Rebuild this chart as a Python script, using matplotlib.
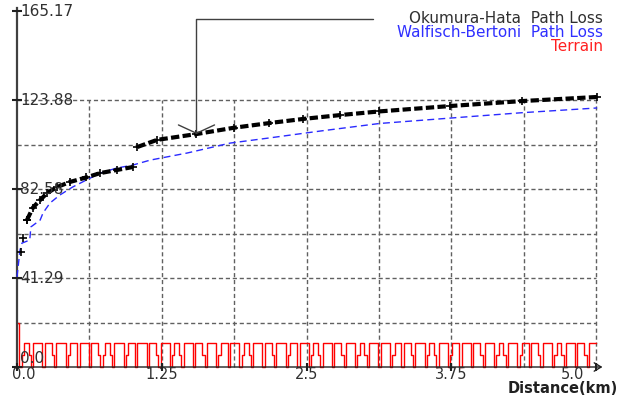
import matplotlib.pyplot as plt
import numpy as np

plt.rcParams['font.family'] = ['DejaVu Sans']

# Okumura-Hata path loss (dB) against distance (km), NaN splits the two branches
oh_km = [0.035, 0.052, 0.086, 0.138, 0.2, 0.26, 0.345, 0.46, 0.6, 0.72, 0.86, 1.0, np.nan,
         1.04, 1.21, 1.55, 1.87, 2.18, 2.47, 2.79, 3.13, 3.74, 4.36, 5.01]
oh_db = [53.4, 59.9, 68.2, 74.0, 77.5, 80.7, 83.5, 85.9, 88.0, 90.0, 91.4, 92.8, np.nan,
         102.1, 105.4, 108.1, 111.0, 113.2, 115.1, 116.9, 118.6, 121.1, 123.4, 125.3]

# Walfisch-Bertoni path loss (dB)
wb_km = [0.0, 0.026, 0.043, 0.11, 0.12, 0.2, 0.225, 0.285, 0.37, 0.48, 0.6, 0.72, 0.86,
         1.0, 1.15, 1.47, 1.84, 2.18, 2.62, 3.13, 3.74, 4.36, 5.01]
wb_db = [41.8, 54.3, 57.5, 58.9, 65.0, 68.2, 71.5, 76.1, 79.8, 83.5, 86.8, 90.0, 92.3,
         93.7, 96.0, 99.3, 103.9, 106.3, 109.5, 113.0, 115.5, 118.0, 120.2]

# terrain profile heights, one sample every 0.02 km
terrain_step = 0.02
terrain_m = [20.6,
             0, 5.6, 11.1, 11.1, 5.6,   0, 11.1, 11.1, 11.1, 11.1,  0, 11.1, 11.1, 11.1, 5.6,
             0, 11.1, 11.1, 11.1, 11.1,  0, 5.6, 11.1, 11.1, 11.1,  0, 11.1, 11.1, 11.1, 11.1,
             0, 11.1, 11.1, 11.1, 5.6,  0, 5.6, 11.1, 11.1, 5.6,  0, 11.1, 11.1, 11.1, 11.1,
             0, 5.6, 11.1, 11.1, 11.1,  0, 11.1, 11.1, 11.1, 11.1,  0, 11.1, 11.1, 11.1, 5.6,
             0, 11.1, 11.1, 11.1, 11.1,  0, 5.6, 11.1, 11.1, 5.6,  0, 11.1, 11.1, 11.1, 11.1,
             0, 11.1, 11.1, 11.1, 5.6,  0, 11.1, 11.1, 11.1, 11.1,  0, 5.6, 11.1, 11.1, 11.1,
             0, 11.1, 11.1, 11.1, 11.1,  0, 5.6, 11.1, 11.1, 5.6,  0, 11.1, 11.1, 11.1, 11.1,
             0, 11.1, 11.1, 11.1, 5.6,  0, 11.1, 11.1, 11.1, 11.1,  0, 5.6, 11.1, 11.1, 11.1,
             0, 11.1, 11.1, 11.1, 11.1,  0, 5.6, 11.1, 11.1, 5.6,  0, 11.1, 11.1, 11.1, 11.1,
             0, 11.1, 11.1, 11.1, 5.6,  0, 11.1, 11.1, 11.1, 11.1,  0, 5.6, 11.1, 11.1, 5.6,
             0, 11.1, 11.1, 11.1, 11.1,  0, 11.1, 11.1, 11.1, 11.1,  0, 5.6, 11.1, 11.1, 11.1,
             0, 11.1, 11.1, 11.1, 5.6,  0, 11.1, 11.1, 11.1, 11.1,  0, 5.6, 11.1, 11.1, 5.6,
             0, 11.1, 11.1, 11.1, 11.1,  0, 5.6, 11.1, 11.1, 11.1,  0, 11.1, 11.1, 11.1, 11.1,
             0, 11.1, 11.1, 11.1, 5.6,  0, 11.1, 11.1, 11.1, 11.1,  0, 5.6, 11.1, 11.1, 5.6,
             0, 11.1, 11.1, 11.1, 11.1,  0, 5.6, 11.1, 11.1, 11.1,  0, 11.1, 11.1, 11.1, 5.6,
             0, 11.1, 11.1, 11.1, 11.1,  0, 5.6, 11.1, 11.1, 5.6,  0, 11.1, 11.1, 11.1, 11.1,
             0, 11.1, 11.1, 11.1, 5.6,  0, 11.1, 11.1, 11.1, 11.1]

y_ticks = [0.0, 41.29, 82.58, 123.88, 165.17]
x_ticks = [0.0, 1.25, 2.5, 3.75, 5.0]
legend_names = ['Okumura-Hata  Path Loss', 'Walfisch-Bertoni  Path Loss', 'Terrain']
legend_colors = ['#303030', '#3030ff', '#ff2020']

grid_top = y_ticks[3]
x_max = x_ticks[-1]

fig = plt.figure(figsize=(6.22, 3.97), dpi=100)
ax = fig.add_axes([0, 0, 1, 1])
ax.set_xlim(-0.1468, 5.2245)
ax.set_ylim(-13.92, 170.3)
ax.axis('off')

# dashed grid box, only up to the 123.88 level
grid_kw = dict(color='#606060', lw=1, linestyles=(0, (3, 2)), zorder=1)
ax.vlines(np.arange(0.625, x_max + 0.01, 0.625), 0, grid_top, **grid_kw)
ax.hlines(np.linspace(0, grid_top, 7)[1:], 0, x_max, **grid_kw)

# axes
ax.plot([0, 0], [0, 166.5], color='#404040', lw=1.6, zorder=3)
ax.annotate('', xy=(5.08, 0), xytext=(0, 0),
            arrowprops=dict(arrowstyle='->,head_length=0.5,head_width=0.3', color='#202020', lw=1),
            zorder=3)
ax.plot(np.zeros(len(y_ticks)), y_ticks, ls='none', marker='_', ms=7, mew=1.5, color='#202020', zorder=4)
ax.plot(x_ticks, np.zeros(len(x_ticks)), ls='none', marker='|', ms=6, mew=1.5, color='#202020', zorder=4)

for v in y_ticks:
    ax.text(0.026, v + (0.4 if v == 0 else 0), f'{v}', ha='left',
            va='bottom' if v == 0 else 'center', fontsize=11, color='#303030', zorder=5)
x_align = ['left', 'center', 'center', 'center', 'right']
x_shift = [-0.04, 0, 0, 0, -0.1]
for v, ha, dx in zip(x_ticks, x_align, x_shift):
    ax.text(v + dx, -3.5, f'{v}', ha=ha, va='center', fontsize=10.5, color='#303030')
ax.text(4.24, -11.9, 'Distance(km)', ha='left', va='baseline', fontsize=10.5,
        fontweight='bold', color='#202020')

# curves
terrain_x = np.arange(len(terrain_m)) * terrain_step
ax.step(terrain_x, terrain_m, where='post', color='#ff0000', lw=1, zorder=2)
ax.plot(wb_km, wb_db, color='#2a2aff', lw=1, dashes=(5, 3), zorder=3)
# the first few Okumura-Hata samples show only as crosses
ax.plot(oh_km[:3], oh_db[:3], ls='none', marker='+', ms=6, mew=1.2, color='black', zorder=4)
ax.plot(oh_km[2:], oh_db[2:], color='black', lw=3, dashes=(2, 0.8), marker='+', ms=6, mew=1.2, zorder=4)

# legend text, top right
for i, (name, c) in enumerate(zip(legend_names, legend_colors)):
    ax.text(5.06, 161.5 - i * 6.5, name, ha='right', va='center', fontsize=11, color=c)

# leader from the Okumura-Hata label down to its curve
x_lead = 1.55
y_lead = np.interp(x_lead, oh_km[13:], oh_db[13:])
ax.annotate('', xy=(x_lead, y_lead), xytext=(3.07, 161.5),
            arrowprops=dict(arrowstyle='->,head_length=0.6,head_width=1.3', color='#404040', lw=1,
                            shrinkA=0, shrinkB=0,
                            connectionstyle='angle,angleA=0,angleB=90,rad=0'),
            zorder=5)

fig.savefig('out.png', dpi=100)
